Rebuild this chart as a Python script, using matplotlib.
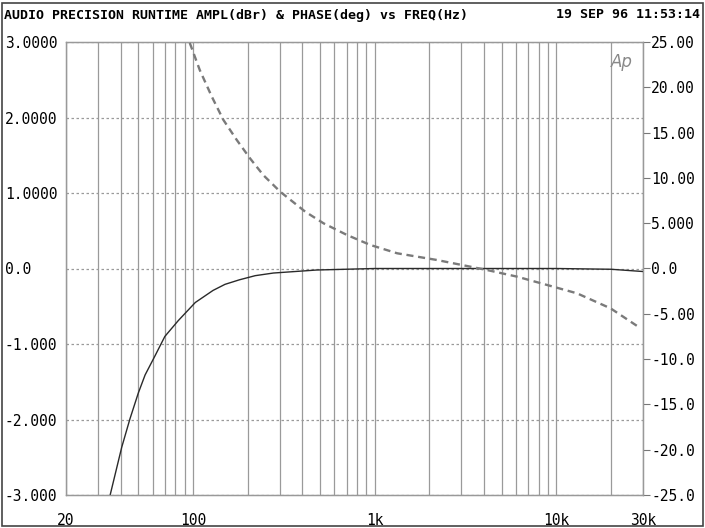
import matplotlib.pyplot as plt
from matplotlib.patches import Rectangle

# amplitude (dBr)
ampl_freq = [35, 40.5, 45, 50, 54.5, 62, 70, 83, 103, 129, 150, 180, 220, 277, 480,
             1000, 3000, 6000, 10000, 20000, 30000]
ampl_db = [-3.0, -2.37, -1.99, -1.65, -1.41, -1.15, -0.90, -0.69, -0.45, -0.29,
           -0.21, -0.15, -0.095, -0.06, -0.02, 0.0, 0.0, 0.0, 0.0, -0.01, -0.04]

# phase (deg)
phase_freq = [96, 109, 127, 147, 174, 206, 244, 302, 415, 523, 704, 946, 1330, 2200,
              4160, 6080, 8900, 13000, 19900, 29100]
phase_deg = [24.9, 21.9, 18.96, 16.4, 14.2, 12.16, 10.3, 8.48, 6.27, 4.99, 3.7, 2.6, 1.68,
             0.94, -0.17, -0.9, -1.82, -2.74, -4.4, -6.6]

left_ticks = [3, 2, 1, 0, -1, -2, -3]
left_labels = ['3.0000', '2.0000', '1.0000', '0.0', '-1.000', '-2.000', '-3.000']
right_ticks = [25, 20, 15, 10, 5, 0, -5, -10, -15, -20, -25]
right_labels = ['25.00', '20.00', '15.00', '10.00', '5.000', '0.0', '-5.00', '-10.0',
                '-15.0', '-20.0', '-25.0']
x_label_pos = [20, 100, 1000, 10000, 30000]
x_labels = ['20', '100', '1k', '10k', '30k']

title = 'AUDIO PRECISION RUNTIME AMPL(dBr) & PHASE(deg) vs FREQ(Hz)'
stamp = '19 SEP 96 11:53:14'

mono = 'DejaVu Sans Mono'
gridc = '#9a9a9a'

fig = plt.figure(figsize=(7.05, 5.28), dpi=100)
ax = fig.add_axes([66 / 705, 1 - 495 / 528, 577 / 705, 453 / 528])
ax2 = ax.twinx()

ax.set_xscale('log')
ax.set_xlim(20, 30000)
ax.set_ylim(-3, 3)
ax2.set_ylim(-25, 25)

# vertical grid at every 1..9 step of each decade
grid_freqs = [m * d for d in (10, 100, 1000, 10000) for m in range(1, 10) if 20 <= m * d <= 30000]
for f in grid_freqs:
    ax.axvline(f, color=gridc, lw=0.9, zorder=0)
for v in left_ticks:
    ax.axhline(v, color=gridc, lw=0.9, ls=(0, (2, 2)), zorder=0)

ax.set_xticks(x_label_pos)
ax.set_xticklabels(x_labels, fontfamily=mono, fontsize=10.5)
ax.xaxis.set_minor_locator(plt.NullLocator())
ax.tick_params(axis='x', length=0, pad=13)

ax.set_yticks(left_ticks)
ax.set_yticklabels(left_labels, fontfamily=mono, fontsize=10.5, ha='left')
ax.tick_params(axis='y', length=0, pad=44)

ax2.set_yticks(right_ticks)
ax2.set_yticklabels(right_labels, fontfamily=mono, fontsize=10.5)
ax2.tick_params(axis='y', length=5, width=0.8, color='#777', pad=1)

for a in (ax, ax2):
    for s in a.spines.values():
        s.set_color('#999')
        s.set_linewidth(0.9)

ax.plot(ampl_freq, ampl_db, color='#2a2a2a', lw=1.0, zorder=3)
ax2.plot(phase_freq, phase_deg, color='#7a7a7a', lw=1.7, ls=(0, (3, 2)), zorder=3)

ax.text(0.964, 0.955, 'Ap', transform=ax.transAxes, fontsize=12, style='italic',
        color='#888', ha='center', va='center')

fig.text(4 / 705, 1 - 15 / 528, title, fontfamily=mono, fontweight='bold', fontsize=9.5,
         ha='left', va='center')
fig.text(700 / 705, 1 - 15 / 528, stamp, fontfamily=mono, fontweight='bold', fontsize=9.5,
         ha='right', va='center')

fig.patches.append(Rectangle((0.003, 0.003), 0.994, 0.992, transform=fig.transFigure,
                             fill=False, edgecolor='#444', lw=1.2))

fig.savefig('out.png', dpi=100)
